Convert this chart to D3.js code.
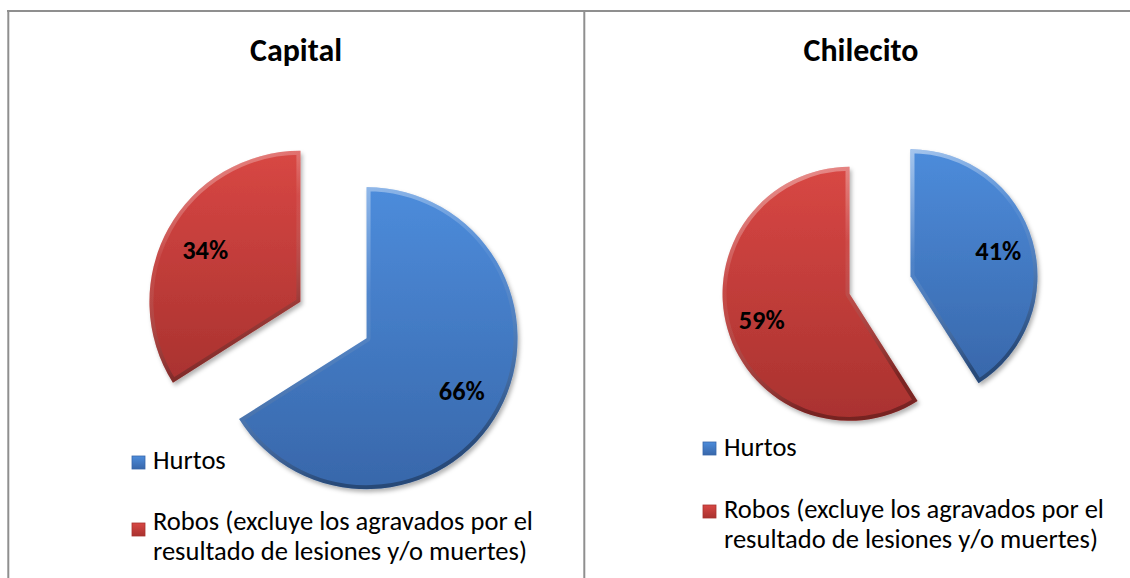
<!DOCTYPE html>
<html>
<head>
<meta charset="utf-8">
<script src="https://cdn.jsdelivr.net/npm/d3@7"></script>
<style>
  html, body { margin: 0; padding: 0; background: #fff; }
  svg { display: block; }
</style>
</head>
<body>
<svg id="chart"></svg>
<script>
// datos
const panelTitles = ['Capital', 'Chilecito'];
const categories = ['Hurtos', 'Robos (excluye los agravados por el resultado de lesiones y/o muertes)'];
const capitalValues = [66, 34];
const chilecitoValues = [41, 59];
const legendLines = [
  ['Hurtos'],
  ['Robos (excluye los agravados por el', 'resultado de lesiones y/o muertes)']
];

const width = 1130;
const height = 578;
const font = 'Carlito, Calibri, Lato, sans-serif';

const svg = d3.select('#chart')
  .attr('width', width)
  .attr('height', height);

const defs = svg.append('defs');

// colores con degradado
const colors = [
  { id: 'blue', top: '#4d8cdb', bottom: '#3867aa' },
  { id: 'red', top: '#d84744', bottom: '#a9322f' }
];
colors.forEach((c) => {
  const g = defs.append('linearGradient')
    .attr('id', 'grad-' + c.id)
    .attr('x1', 0).attr('y1', 0).attr('x2', 0).attr('y2', 1);
  g.append('stop').attr('offset', '0%').attr('stop-color', c.top);
  g.append('stop').attr('offset', '100%').attr('stop-color', c.bottom);
});

const bevel = defs.append('linearGradient')
  .attr('id', 'bevel')
  .attr('x1', 0).attr('y1', 0).attr('x2', 0.3).attr('y2', 1);
bevel.append('stop').attr('offset', '0%').attr('stop-color', '#fff').attr('stop-opacity', 0.5);
bevel.append('stop').attr('offset', '45%').attr('stop-color', '#fff').attr('stop-opacity', 0.06);
bevel.append('stop').attr('offset', '100%').attr('stop-color', '#000').attr('stop-opacity', 0.3);

defs.append('filter')
  .attr('id', 'shadow')
  .attr('x', '-20%').attr('y', '-20%').attr('width', '140%').attr('height', '140%')
  .append('feDropShadow')
  .attr('dx', 2).attr('dy', 3).attr('stdDeviation', 2)
  .attr('flood-color', '#000').attr('flood-opacity', 0.3);

// marco
const frame = svg.append('g')
  .attr('stroke', '#8f8f8f')
  .attr('stroke-width', 2)
  .attr('fill', 'none');
frame.append('line').attr('x1', 7).attr('x2', width).attr('y1', 11).attr('y2', 11);
frame.append('line').attr('x1', 8.3).attr('x2', 8.3).attr('y1', 10).attr('y2', height);
frame.append('line').attr('x1', 584.3).attr('x2', 584.3).attr('y1', 10).attr('y2', height);

// ajusta el tamaño de fuente a un ancho deseado
function fitSize(text, weight, targetWidth) {
  const t = svg.append('text')
    .attr('font-family', font)
    .attr('font-weight', weight)
    .attr('font-size', 20)
    .text(text);
  const w = t.node().getComputedTextLength();
  t.remove();
  return 20 * targetWidth / w;
}

const titleSize = fitSize('Capital', 'bold', 92);
const legendSize = fitSize(legendLines[1][0], 'normal', 380);
const labelSize = fitSize('66%', 'bold', 46);

const panels = [
  {
    title: panelTitles[0], values: capitalValues, titleX: 296, cx: 333.5, cy: 320, r: 151,
    legendX: 132, legendRows: [{ box: 456, lines: [469] }, { box: 523, lines: [530, 560] }]
  },
  {
    title: panelTitles[1], values: chilecitoValues, titleX: 861, cx: 880, cy: 285, r: 127,
    legendX: 703, legendRows: [{ box: 442, lines: [456] }, { box: 505, lines: [518, 548] }]
  }
];

const pie = d3.pie().sort(null).value((d) => d);

panels.forEach((p, pi) => {
  const g = svg.append('g');

  // título
  g.append('text')
    .attr('x', p.titleX)
    .attr('y', 61)
    .attr('text-anchor', 'middle')
    .attr('font-family', font)
    .attr('font-weight', 'bold')
    .attr('font-size', titleSize)
    .attr('fill', '#000')
    .text(p.title);

  const arc = d3.arc().innerRadius(0).outerRadius(p.r);
  const explode = p.r * 0.25;
  const arcs = pie(p.values);

  const pieG = g.append('g')
    .attr('transform', `translate(${p.cx},${p.cy})`);

  arcs.forEach((a, i) => {
    const mid = (a.startAngle + a.endAngle) / 2;
    const dx = Math.sin(mid) * explode;
    const dy = -Math.cos(mid) * explode;
    const slice = pieG.append('g')
      .attr('transform', `translate(${dx},${dy})`);

    const clipId = `clip-${pi}-${i}`;
    defs.append('clipPath')
      .attr('id', clipId)
      .append('path')
      .attr('d', arc(a));

    slice.append('path')
      .attr('d', arc(a))
      .attr('fill', `url(#grad-${colors[i].id})`)
      .attr('filter', 'url(#shadow)');

    // bisel
    slice.append('path')
      .attr('d', arc(a))
      .attr('fill', 'none')
      .attr('stroke', 'url(#bevel)')
      .attr('stroke-width', 8)
      .attr('stroke-linejoin', 'round')
      .attr('clip-path', `url(#${clipId})`);

    // porcentaje
    const lr = p.r * 0.72;
    slice.append('text')
      .attr('x', Math.sin(mid) * lr)
      .attr('y', -Math.cos(mid) * lr)
      .attr('dy', '0.35em')
      .attr('text-anchor', 'middle')
      .attr('font-family', font)
      .attr('font-weight', 'bold')
      .attr('font-size', labelSize)
      .attr('fill', '#000')
      .text(d3.format('.0%')(a.value / d3.sum(p.values)));
  });

  // leyenda (una etiqueta por categoría, con líneas en tspan)
  p.legendRows.forEach((row, i) => {
    g.append('rect')
      .attr('x', p.legendX)
      .attr('y', row.box)
      .attr('width', 13)
      .attr('height', 13)
      .attr('fill', `url(#grad-${colors[i].id})`)
      .attr('stroke', colors[i].bottom)
      .attr('stroke-width', 0.8);
    const label = g.append('text')
      .attr('font-family', font)
      .attr('font-size', legendSize)
      .attr('fill', '#000');
    label.append('title').text(categories[i]);
    legendLines[i].forEach((line, li) => {
      label.append('tspan')
        .attr('x', p.legendX + 21)
        .attr('y', row.lines[li])
        .text(line);
    });
  });
});
</script>
</body>
</html>
